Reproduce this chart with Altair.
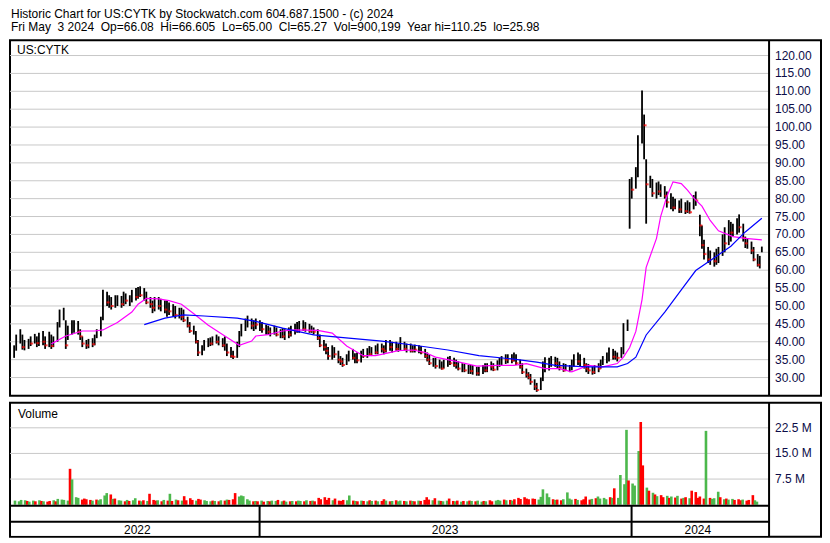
import altair as alt
import pandas as pd

FONT = "Liberation Sans"
NAVY = "#0c0c48"
GRID = "#c8c8c8"
UP = "#4cb84c"
DOWN = "#ff0000"

header_1 = "Historic Chart for US:CYTK by Stockwatch.com 604.687.1500 - (c) 2024"
header_2 = "Fri May  3 2024  Op=66.08  Hi=66.605  Lo=65.00  Cl=65.27  Vol=900,199  Year hi=110.25  lo=25.98"
symbol_label = "US:CYTK"
volume_label = "Volume"

# one bar every second trading day, starting here
first_day = "2022-05-06"

low = [
    34.6, 35.5, 37.5, 39.5, 37.8, 37.6, 38.0, 38.8, 39.5, 38.5,
    38.8, 39.0, 38.0, 38.5, 38.0, 38.5, 40.0, 44.0, 46.0, 38.0,
    40.5, 42.0, 42.5, 42.0, 40.5, 38.5, 38.0, 38.2, 38.5, 39.0,
    41.0, 41.5, 46.0, 50.0, 49.5, 49.0, 49.5, 50.0, 49.5, 50.0,
    50.5, 50.0, 51.0, 51.5, 52.0, 52.5, 51.5, 50.5, 49.5, 48.0,
    48.5, 49.0, 48.5, 48.0, 47.0, 47.5, 47.0, 46.5, 46.5, 46.0,
    45.5, 44.0, 42.5, 42.0, 39.5, 36.0, 36.2, 37.5, 38.5, 38.8,
    39.0, 39.5, 39.0, 38.5, 37.5, 36.0, 35.5, 35.2, 35.5, 38.5,
    41.5, 43.0, 44.0, 43.5, 43.0, 43.5, 43.0, 42.5, 42.0, 42.0,
    41.5, 42.0, 41.5, 41.0, 41.0, 40.5, 41.0, 41.5, 42.0, 42.5,
    42.5, 43.0, 42.8, 42.5, 42.5, 42.0, 40.5, 38.5, 37.5, 36.5,
    35.0, 35.0, 35.5, 34.0, 33.5, 33.0, 33.5, 34.5, 35.0, 34.0,
    34.0, 34.2, 35.5, 35.5, 36.0, 36.0, 36.5, 36.5, 37.0, 36.5,
    37.0, 37.5, 37.0, 37.5, 37.2, 37.5, 37.5, 37.0, 37.0, 37.0,
    37.0, 36.8, 36.5, 35.5, 34.5, 33.5, 33.0, 32.5, 32.5, 32.2,
    32.5, 33.0, 33.5, 33.0, 32.5, 32.0, 31.5, 31.5, 31.0, 31.0,
    30.8, 30.5, 30.5, 31.0, 31.5, 31.5, 32.0, 31.8, 32.0, 33.0,
    33.5, 33.8, 34.0, 34.0, 34.5, 33.5, 32.5, 31.0, 30.0, 29.5,
    28.0, 26.5, 26.0, 26.5, 29.0, 31.5, 32.0, 33.0, 33.0, 32.5,
    32.0, 31.6, 31.8, 31.5, 32.0, 33.0, 33.5, 33.0, 32.5, 31.5,
    31.0, 30.8, 31.0, 31.5, 32.5, 33.5, 34.0, 34.5, 35.0, 35.0,
    34.5, 35.5, 36.5, 43.0, 71.6, 80.0, 82.8, 86.0, 95.4, 91.0,
    73.0, 83.0, 80.5, 80.0, 81.0, 80.5, 80.0, 77.5, 77.0, 76.5,
    77.0, 76.0, 76.0, 75.7, 76.0, 75.8, 77.0, 78.0, 69.5, 66.0,
    63.0, 62.0, 61.5, 61.0, 61.5, 62.0, 64.0, 65.0, 67.0, 68.0,
    69.4, 70.0, 70.5, 68.0, 66.2, 66.0, 64.5, 62.5, 61.0, 60.5,
    65.0,
]
high = [
    39.2, 39.0, 42.0, 43.5, 42.0, 40.5, 40.8, 41.5, 42.2, 41.5,
    42.5, 43.0, 41.5, 42.8, 42.0, 41.5, 45.5, 49.0, 49.5, 46.0,
    44.5, 46.0, 46.0, 45.8, 43.5, 41.5, 40.5, 40.8, 41.0, 42.0,
    43.5, 47.0, 54.5, 54.0, 53.0, 52.5, 53.0, 53.0, 52.8, 54.0,
    53.5, 53.0, 54.5, 55.0, 55.3, 55.5, 55.0, 54.0, 52.5, 51.5,
    52.5, 52.5, 52.0, 51.5, 51.5, 51.0, 50.5, 50.0, 49.5, 49.5,
    49.0, 47.0, 45.5, 44.5, 43.0, 40.5, 39.0, 40.5, 41.0, 41.2,
    41.5, 42.0, 41.5, 41.0, 41.5, 39.5, 38.5, 37.5, 40.0, 43.0,
    45.0, 46.5, 47.3, 46.5, 46.0, 46.5, 46.0, 45.5, 44.8, 44.5,
    44.0, 44.5, 44.0, 43.5, 43.8, 43.5, 44.0, 44.5, 45.0, 45.5,
    45.8, 46.0, 45.5, 45.0, 44.5, 44.0, 43.5, 42.0, 40.5, 39.5,
    38.5, 39.0, 38.5, 37.5, 36.0, 35.5, 36.5, 37.5, 38.0, 36.8,
    37.0, 37.5, 38.0, 38.2, 38.8, 38.5, 39.0, 39.5, 39.5, 39.0,
    40.5, 40.5, 40.0, 40.0, 39.5, 41.3, 40.0, 39.5, 39.5, 39.0,
    39.2, 39.0, 38.8, 38.0, 37.0, 36.5, 35.5, 35.5, 35.0, 34.5,
    35.0, 35.8, 36.0, 35.5, 35.0, 34.5, 34.0, 33.8, 33.5, 33.5,
    33.5, 33.0, 33.0, 33.5, 34.0, 34.0, 34.5, 34.0, 34.8, 35.5,
    36.0, 36.5, 36.5, 36.5, 37.0, 36.5, 35.0, 34.0, 32.5, 31.5,
    31.0, 29.5, 28.5, 30.0, 34.5, 35.7, 35.5, 36.0, 35.8, 35.5,
    34.5, 34.0, 33.8, 33.5, 35.0, 36.5, 37.0, 36.5, 35.5, 34.0,
    33.8, 33.0, 33.5, 34.0, 35.0, 36.0, 37.0, 38.4, 38.0, 37.5,
    37.0, 38.5, 45.2, 46.2, 85.5, 86.0, 88.8, 97.7, 110.25, 103.5,
    91.0, 86.4, 85.5, 84.5, 84.8, 84.0, 83.5, 82.0, 81.5, 80.5,
    80.0, 79.5, 80.0, 79.0, 79.5, 79.0, 81.0, 82.0, 75.5, 72.5,
    68.5, 66.5, 65.5, 65.0, 66.0, 66.5, 70.0, 72.0, 74.0, 73.5,
    73.0, 74.5, 75.6, 73.0, 69.4, 69.0, 68.0, 66.5, 64.5, 64.0,
    66.6,
]
close = [
    36.0, 37.8, 41.0, 43.0, 38.5, 39.2, 40.0, 39.5, 41.8, 39.6,
    41.5, 40.0, 39.0, 42.0, 38.8, 40.5, 44.8, 47.8, 48.5, 39.0,
    43.5, 44.0, 45.5, 42.8, 41.5, 39.5, 39.0, 40.0, 39.3, 41.5,
    42.8, 46.5, 53.5, 51.0, 52.0, 50.0, 51.5, 52.5, 50.5, 53.0,
    51.5, 52.5, 53.8, 52.5, 54.5, 53.0, 54.0, 51.0, 50.5, 49.5,
    52.0, 50.0, 51.0, 49.0, 50.8, 48.5, 49.5, 47.5, 48.5, 47.0,
    46.0, 44.5, 43.0, 43.5, 40.0, 37.0, 38.5, 39.5, 40.0, 39.5,
    40.8, 40.0, 40.5, 39.0, 40.5, 37.0, 36.0, 35.8, 39.5, 42.5,
    44.5, 45.5, 46.0, 44.5, 45.5, 44.8, 45.0, 43.5, 44.0, 42.8,
    43.0, 43.5, 42.0, 42.5, 41.5, 43.0, 42.0, 44.0, 43.0, 44.5,
    45.0, 43.5, 44.5, 43.0, 43.5, 42.8, 41.0, 39.0, 38.5, 37.5,
    36.0, 38.2, 36.5, 35.0, 34.5, 33.5, 35.8, 36.8, 35.5, 36.0,
    34.8, 37.0, 36.0, 37.5, 36.5, 38.0, 37.0, 38.8, 38.0, 37.5,
    39.8, 38.5, 39.5, 38.0, 38.8, 40.5, 38.0, 38.5, 37.5, 38.3,
    37.8, 38.5, 37.0, 36.0, 35.0, 34.0, 34.5, 33.2, 34.0, 32.5,
    34.5, 35.0, 34.0, 33.5, 34.2, 32.5, 33.0, 32.0, 32.8, 31.8,
    32.5, 31.2, 32.0, 32.8, 32.0, 33.5, 33.0, 32.2, 34.2, 34.8,
    35.5, 35.0, 35.8, 34.8, 36.0, 34.0, 33.0, 31.5, 30.8, 30.0,
    28.8, 27.5, 26.5, 29.5, 33.8, 34.5, 35.0, 35.2, 34.0, 34.8,
    32.8, 32.0, 33.0, 33.3, 34.5, 35.8, 34.5, 35.5, 33.5, 32.5,
    32.0, 31.5, 32.8, 32.5, 34.5, 35.5, 36.0, 37.5, 35.8, 36.8,
    35.5, 38.0, 44.2, 45.3, 83.0, 82.5, 86.4, 93.5, 101.5, 100.5,
    84.0, 84.3, 81.5, 83.5, 82.0, 83.0, 80.8, 79.0, 80.5, 77.5,
    78.5, 77.0, 78.0, 76.5, 77.0, 76.2, 80.5, 79.5, 72.5, 67.0,
    64.5, 63.0, 64.0, 62.5, 63.5, 65.0, 69.0, 67.5, 72.0, 70.5,
    71.5, 73.0, 72.0, 69.0, 67.5, 67.8, 65.5, 63.0, 61.5, 63.5,
    65.27,
]
volume_m = [
    1.2, 1.0, 1.4, 1.3, 1.1, 0.9, 1.2, 1.0, 1.3, 1.1,
    1.0, 0.9, 1.1, 1.3, 1.0, 1.7, 1.5, 1.4, 1.2, 10.5,
    7.4, 2.2, 2.0, 1.5, 1.8, 1.6, 1.4, 1.2, 1.5, 1.3,
    1.6, 2.7, 3.4, 3.0, 1.7, 1.8, 1.3, 1.2, 1.0, 1.4,
    1.1, 1.3, 1.9, 1.2, 1.0, 1.3, 1.1, 3.2, 1.4, 1.2,
    1.3, 1.0, 1.4, 1.2, 3.2, 1.1, 1.5, 1.3, 1.2, 2.5,
    1.3, 1.9, 1.4, 1.2, 1.7, 1.5, 1.3, 1.1, 1.0, 1.2,
    1.1, 1.0, 1.3, 1.2, 1.5, 1.4, 1.6, 3.4, 2.4, 2.7,
    2.5, 1.6, 1.2, 1.0, 1.1, 1.0, 1.2, 0.9, 1.1, 1.0,
    1.2, 1.1, 1.4, 1.0, 1.2, 0.9, 1.0, 1.1, 1.0, 1.2,
    1.1, 1.0, 1.3, 1.1, 1.2, 1.0, 2.0, 1.6, 2.2, 1.4,
    2.0, 1.3, 1.8, 1.2, 1.1, 1.4, 1.3, 2.7, 1.2, 1.1,
    1.0, 1.2, 1.1, 1.0, 1.3, 1.1, 1.2, 1.0, 1.1, 1.6,
    1.2, 1.0, 1.1, 1.3, 1.0, 1.2, 1.1, 1.0, 1.2, 1.1,
    1.0, 1.2, 1.1, 1.4, 2.2, 1.5, 1.3, 1.9, 1.2, 1.1,
    1.0, 1.2, 1.8, 1.1, 1.0, 1.2, 0.9, 1.1, 1.0, 1.2,
    1.1, 1.0, 1.2, 0.9, 1.1, 1.0, 1.3, 1.0, 1.2, 1.4,
    1.2, 1.5, 1.3, 1.4, 1.2, 1.6, 2.0, 1.7, 2.2, 1.8,
    1.6, 1.8, 1.7, 1.5, 2.3, 4.5, 3.3, 2.2, 1.6, 1.4,
    1.5, 1.3, 1.6, 3.6, 1.8, 1.5, 1.7, 1.4, 1.3, 1.6,
    2.4, 1.5, 1.7, 1.9, 2.4, 1.8, 2.0, 1.6, 2.2, 2.0,
    4.8, 2.0, 8.7, 6.0, 21.9, 7.1, 6.2, 5.6, 15.7, 24.2,
    11.5, 5.0, 4.1, 3.5, 3.0, 2.5, 2.8, 2.2, 2.6, 2.0,
    2.4, 2.1, 2.6, 1.8, 2.0, 2.2, 1.9, 4.1, 3.7, 2.0,
    2.4, 1.8, 21.6, 2.0, 1.7, 1.9, 3.8, 2.2, 1.6, 1.8,
    1.5, 1.7, 1.4, 1.6, 1.3, 1.5, 1.2, 1.4, 2.8, 1.3,
    0.9,
]

# moving averages (bar index -> value)
ma_fast_idx = [14, 19, 25, 29, 32, 37, 42, 44, 47, 51,
               55, 59, 63, 68, 74, 79, 83, 85, 89, 94,
               98, 106, 111, 116, 122, 126, 129, 134, 139, 143,
               147, 154, 161, 168, 174, 178, 185, 190, 194, 200,
               205, 210, 212, 214, 216, 218, 220, 223, 225, 227,
               229, 232, 234, 236, 239, 242, 245, 250, 254, 260]
ma_fast_val = [39.4, 41.6, 43.0, 43.0, 43.3, 45.4, 48.3, 50.5, 52.1, 52.0,
               51.5, 50.5, 47.8, 44.6, 41.6, 39.0, 40.2, 41.6, 42.0, 43.0,
               43.3, 43.2, 42.4, 38.8, 36.1, 36.1, 36.6, 37.5, 37.7, 37.0,
               35.7, 34.5, 33.2, 33.4, 33.4, 33.9, 32.5, 32.5, 31.6, 33.4,
               33.0, 33.9, 35.7, 38.4, 42.9, 51.8, 60.8, 68.9, 75.0, 80.6,
               84.7, 84.2, 82.4, 80.2, 77.9, 73.9, 71.0, 69.4, 68.9, 68.5]
ma_slow_idx = [46, 53, 60, 67, 78, 85, 94, 105, 117, 128,
               139, 151, 162, 173, 182, 188, 200, 210, 213, 216,
               220, 226, 232, 237, 243, 249, 254, 260]
ma_slow_val = [44.8, 46.6, 47.5, 47.2, 46.6, 45.7, 43.8, 41.9, 41.0, 40.2,
               39.1, 37.7, 36.1, 35.2, 34.3, 33.4, 33.0, 33.0, 33.9, 35.7,
               41.9, 48.3, 54.5, 59.9, 63.5, 66.7, 70.7, 74.5]

price_ticks = [30, 35, 40, 45, 50, 55, 60, 65, 70, 75, 80, 85, 90, 95, 100, 105, 110, 115, 120]
volume_ticks = [7.5, 15.0, 22.5]

year_names = ["2022", "2023", "2024"]
year_mid = ["2022-09-03", "2023-07-02", "2024-03-06"]
year_breaks = ["2023-01-01", "2024-01-01"]

n = len(close)
assert len(low) == n and len(high) == n and len(volume_m) == n, (len(low), len(high), n, len(volume_m))
assert len(ma_fast_idx) == len(ma_fast_val) and len(ma_slow_idx) == len(ma_slow_val)

dates = pd.date_range(first_day, periods=n, freq="2B")
bars = pd.DataFrame({"date": dates, "lo": low, "hi": high, "close": close, "vol": volume_m})
bars["dir"] = ["down" if i > 0 and close[i] < close[i - 1] else "up" for i in range(n)]
ma_fast = pd.DataFrame({"date": dates[ma_fast_idx], "val": ma_fast_val})
ma_slow = pd.DataFrame({"date": dates[ma_slow_idx], "val": ma_slow_val})
one = pd.DataFrame({"a": [0]})

# layout
W = 812
PLOT_W = 760
H_P = 356
H_B = 134
VOL_H = 103
ROW_Y = 119

xs = alt.Scale(domain=[alt.DateTime(year=2022, month=5, date=6),
                       alt.DateTime(year=2024, month=5, date=10)],
               range=[0, PLOT_W])
x_axis = alt.Axis(title=None, labels=False, ticks=False, domain=False, grid=True,
                  gridColor=GRID, gridWidth=1, tickCount="month")
ys = alt.Scale(domain=[24.88, 124.26], nice=False, zero=False)
vs = alt.Scale(domain=[0, 29.8], range=[102, 0], nice=False)

grid_h = alt.Chart(pd.DataFrame({"level": price_ticks})).mark_rule(color=GRID, strokeWidth=1).encode(
    y=alt.Y("level:Q", scale=ys, axis=None), x=alt.value(0), x2=alt.value(PLOT_W))
price_labels = alt.Chart(pd.DataFrame({"level": price_ticks})).transform_calculate(
    lab="format(datum.level, '.2f')").mark_text(
    align="left", baseline="middle", font=FONT, fontSize=12, color=NAVY).encode(
    y=alt.Y("level:Q", scale=ys, axis=None), x=alt.value(PLOT_W + 6), text="lab:N")
hl = alt.Chart(bars).mark_rule(color="black", strokeWidth=1.8).encode(
    x=alt.X("date:T", scale=xs, axis=x_axis),
    y=alt.Y("lo:Q", scale=ys, axis=None), y2="hi:Q")
close_ticks = alt.Chart(bars).transform_filter("datum.dir == 'down'").mark_tick(
    color=DOWN, orient="horizontal", size=3, thickness=2, xOffset=1).encode(
    x=alt.X("date:T", scale=xs, axis=None), y=alt.Y("close:Q", scale=ys, axis=None))
line_fast = alt.Chart(ma_fast).mark_line(color="#ff00ff", strokeWidth=1.2).encode(
    x=alt.X("date:T", scale=xs, axis=None), y=alt.Y("val:Q", scale=ys, axis=None))
line_slow = alt.Chart(ma_slow).mark_line(color="#0000ff", strokeWidth=1.2).encode(
    x=alt.X("date:T", scale=xs, axis=None), y=alt.Y("val:Q", scale=ys, axis=None))
sep_p = alt.Chart(one).mark_rule(color="black", strokeWidth=2).encode(
    x=alt.value(PLOT_W), y=alt.value(0), y2=alt.value(H_P))
sym = alt.Chart(pd.DataFrame({"t": [symbol_label]})).mark_text(
    align="left", baseline="alphabetic", font=FONT, fontSize=12, color="black").encode(
    text="t:N", x=alt.value(7), y=alt.value(14))

price = alt.layer(grid_h, hl, close_ticks, line_fast, line_slow, sep_p, price_labels, sym).properties(
    width=W, height=H_P)

grid_v = alt.Chart(pd.DataFrame({"level": volume_ticks})).mark_rule(color=GRID, strokeWidth=1).encode(
    y=alt.Y("level:Q", scale=vs, axis=None), x=alt.value(0), x2=alt.value(PLOT_W))
vol_labels = alt.Chart(pd.DataFrame({"level": volume_ticks})).transform_calculate(
    lab="format(datum.level, '.1f') + ' M'").mark_text(
    align="left", baseline="middle", font=FONT, fontSize=12, color=NAVY).encode(
    y=alt.Y("level:Q", scale=vs, axis=None), x=alt.value(PLOT_W + 6), text="lab:N")
vbars = alt.Chart(bars).mark_bar(size=2.6).encode(
    x=alt.X("date:T", scale=xs, axis=x_axis),
    y=alt.Y("vol:Q", scale=vs, axis=None),
    color=alt.Color("dir:N", scale=alt.Scale(domain=["up", "down"], range=[UP, DOWN]), legend=None))
cover = alt.Chart(one).mark_rect(color="white").encode(
    x=alt.value(1), x2=alt.value(PLOT_W - 1), y=alt.value(VOL_H), y2=alt.value(H_B - 1))
row_a = alt.Chart(one).mark_rule(color="black", strokeWidth=2).encode(
    x=alt.value(0), x2=alt.value(PLOT_W), y=alt.value(VOL_H))
row_b = alt.Chart(one).mark_rule(color="black", strokeWidth=2).encode(
    x=alt.value(0), x2=alt.value(PLOT_W), y=alt.value(ROW_Y))
breaks = alt.Chart(pd.DataFrame({"date": pd.to_datetime(year_breaks)})).mark_rule(
    color="black", strokeWidth=2).encode(
    x=alt.X("date:T", scale=xs, axis=None), y=alt.value(VOL_H), y2=alt.value(H_B))
years = alt.Chart(pd.DataFrame({"date": pd.to_datetime(year_mid), "label": year_names})).mark_text(
    align="center", baseline="alphabetic", font=FONT, fontSize=12, color="black").encode(
    x=alt.X("date:T", scale=xs, axis=None), y=alt.value(131), text="label:N")
sep_b = alt.Chart(one).mark_rule(color="black", strokeWidth=2).encode(
    x=alt.value(PLOT_W), y=alt.value(0), y2=alt.value(H_B))
vol_txt = alt.Chart(pd.DataFrame({"t": [volume_label]})).mark_text(
    align="left", baseline="alphabetic", font=FONT, fontSize=12, color="black").encode(
    text="t:N", x=alt.value(8), y=alt.value(15))

bottom = alt.layer(grid_v, vbars, cover, row_a, row_b, breaks, years, sep_b, vol_labels, vol_txt).properties(
    width=W, height=H_B)

chart = alt.vconcat(price, bottom, spacing=3).properties(
    title=alt.TitleParams(
        text=[header_1, header_2.replace("  ", "\u00a0 ")],
        anchor="start", font=FONT, fontSize=12, fontWeight="normal", color="black",
        lineHeight=13, offset=4, dx=3),
    padding=0,
).configure_view(stroke="black", strokeWidth=2)

chart.save("out.html", embed_options={"renderer": "svg", "actions": False})
